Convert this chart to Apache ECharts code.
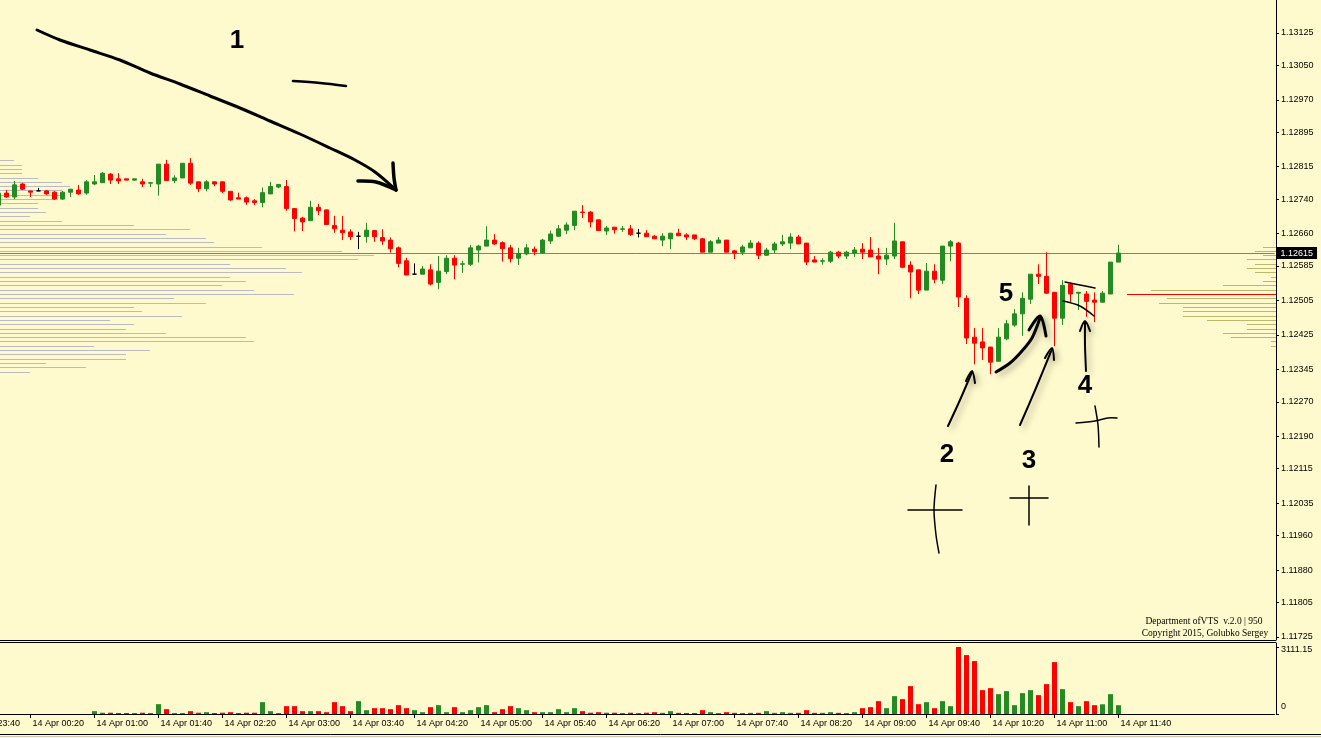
<!DOCTYPE html>
<html><head><meta charset="utf-8">
<script src="https://cdn.jsdelivr.net/npm/echarts@6/dist/echarts.min.js"></script>
<style>html,body{margin:0;padding:0;background:#FFFACD;overflow:hidden}#c{width:1321px;height:738px}</style>
</head><body><div id="c"></div><script>
// ---------- DATA ----------
// M5 bars, first bar 14 Apr 00:00, last 14 Apr 11:40
const open = [1.12726,1.12754,1.12745,1.12775,1.12759,1.12759,1.12759,1.12756,1.12740,1.12756,1.12761,1.12754,
1.12775,1.12778,1.12798,1.12787,1.12787,1.12784,1.12780,1.12777,1.12775,1.12821,1.12783,1.12789,
1.12823,1.12780,1.12764,1.12780,1.12780,1.12758,1.12743,1.12743,1.12736,1.12732,1.12752,1.12768,
1.12769,1.12718,1.12696,1.12690,1.12721,1.12715,1.12679,1.12668,1.12664,1.12654,1.12653,1.12667,
1.12651,1.12645,1.12627,1.12597,1.12566,1.12566,1.12576,1.12547,1.12572,1.12603,1.12589,1.12589,
1.12622,1.12631,1.12645,1.12639,1.12627,1.12603,1.12613,1.12624,1.12615,1.12643,1.12654,1.12668,
1.12679,1.12710,1.12710,1.12692,1.12666,1.12675,1.12670,1.12671,1.12661,1.12661,1.12654,1.12645,
1.12648,1.12661,1.12657,1.12657,1.12648,1.12617,1.12638,1.12645,1.12620,1.12617,1.12627,1.12638,
1.12610,1.12622,1.12636,1.12638,1.12652,1.12638,1.12599,1.12596,1.12596,1.12617,1.12608,1.12615,
1.12624,1.12622,1.12608,1.12601,1.12608,1.12641,1.12587,1.12576,1.12529,1.12573,1.12552,1.12631,
1.12638,1.12510,1.12420,1.12409,1.12397,1.12364,1.12416,1.12448,1.12474,1.12508,1.12566,1.12561,
1.12524,1.12464,1.12543,1.12522,1.12520,1.12506,1.12501,1.12520,1.12594];
const close = [1.12754,1.12745,1.12773,1.12763,1.12756,1.12759,1.12752,1.12740,1.12756,1.12763,1.12752,1.12780,
1.12780,1.12800,1.12784,1.12782,1.12784,1.12787,1.12775,1.12778,1.12821,1.12783,1.12789,1.12823,
1.12777,1.12764,1.12780,1.12775,1.12758,1.12738,1.12740,1.12733,1.12732,1.12755,1.12769,1.12774,
1.12718,1.12695,1.12687,1.12721,1.12713,1.12681,1.12671,1.12662,1.12653,1.12654,1.12668,1.12653,
1.12643,1.12625,1.12591,1.12564,1.12566,1.12578,1.12543,1.12573,1.12603,1.12587,1.12590,1.12627,
1.12631,1.12645,1.12636,1.12625,1.12602,1.12614,1.12627,1.12618,1.12645,1.12659,1.12671,1.12680,
1.12712,1.12709,1.12687,1.12667,1.12673,1.12669,1.12671,1.12658,1.12661,1.12653,1.12648,1.12654,
1.12661,1.12655,1.12652,1.12648,1.12617,1.12641,1.12645,1.12617,1.12615,1.12629,1.12638,1.12610,
1.12622,1.12636,1.12641,1.12652,1.12636,1.12594,1.12594,1.12597,1.12617,1.12608,1.12617,1.12622,
1.12617,1.12606,1.12601,1.12610,1.12643,1.12582,1.12571,1.12529,1.12573,1.12554,1.12631,1.12641,
1.12513,1.12418,1.12406,1.12395,1.12362,1.12420,1.12451,1.12474,1.12510,1.12566,1.12561,1.12522,
1.12464,1.12540,1.12520,1.12524,1.12503,1.12501,1.12522,1.12594,1.12615];
const low = [1.12722,1.12743,1.12740,1.12761,1.12745,1.12759,1.12750,1.12738,1.12738,1.12745,1.12750,1.12750,
1.12773,1.12778,1.12775,1.12775,1.12784,1.12782,1.12768,1.12768,1.12748,1.12783,1.12777,1.12789,
1.12773,1.12756,1.12758,1.12770,1.12754,1.12736,1.12740,1.12727,1.12726,1.12721,1.12752,1.12765,
1.12713,1.12665,1.12666,1.12690,1.12703,1.12681,1.12662,1.12645,1.12645,1.12624,1.12639,1.12641,
1.12634,1.12616,1.12582,1.12564,1.12566,1.12566,1.12540,1.12531,1.12566,1.12554,1.12569,1.12585,
1.12593,1.12631,1.12634,1.12595,1.12593,1.12587,1.12610,1.12610,1.12615,1.12636,1.12652,1.12659,
1.12668,1.12696,1.12675,1.12667,1.12657,1.12660,1.12664,1.12655,1.12651,1.12653,1.12648,1.12631,
1.12624,1.12655,1.12645,1.12645,1.12617,1.12617,1.12638,1.12617,1.12601,1.12610,1.12627,1.12601,
1.12608,1.12615,1.12631,1.12624,1.12636,1.12587,1.12594,1.12588,1.12592,1.12603,1.12601,1.12606,
1.12601,1.12606,1.12566,1.12587,1.12601,1.12580,1.12510,1.12520,1.12529,1.12545,1.12543,1.12596,
1.12490,1.12404,1.12357,1.12367,1.12334,1.12364,1.12413,1.12444,1.12423,1.12497,1.12543,1.12520,
1.12399,1.12448,1.12501,1.12483,1.12467,1.12455,1.12501,1.12520,1.12594];
const high = [1.12761,1.12761,1.12782,1.12777,1.12759,1.12766,1.12761,1.12759,1.12759,1.12763,1.12773,1.12784,
1.12796,1.12803,1.12800,1.12800,1.12787,1.12787,1.12787,1.12778,1.12821,1.12831,1.12795,1.12823,
1.12835,1.12780,1.12784,1.12780,1.12780,1.12758,1.12755,1.12746,1.12740,1.12767,1.12780,1.12774,
1.12784,1.12718,1.12699,1.12736,1.12729,1.12716,1.12701,1.12701,1.12670,1.12664,1.12685,1.12667,
1.12670,1.12651,1.12630,1.12604,1.12591,1.12585,1.12589,1.12608,1.12610,1.12610,1.12597,1.12634,
1.12634,1.12677,1.12659,1.12642,1.12634,1.12627,1.12636,1.12630,1.12648,1.12667,1.12680,1.12686,
1.12712,1.12726,1.12712,1.12692,1.12678,1.12675,1.12678,1.12680,1.12671,1.12668,1.12657,1.12661,
1.12661,1.12671,1.12661,1.12657,1.12650,1.12645,1.12652,1.12645,1.12622,1.12634,1.12645,1.12642,
1.12627,1.12641,1.12657,1.12661,1.12657,1.12638,1.12608,1.12603,1.12620,1.12620,1.12620,1.12629,
1.12638,1.12652,1.12627,1.12627,1.12685,1.12641,1.12596,1.12576,1.12592,1.12589,1.12631,1.12645,
1.12641,1.12517,1.12441,1.12441,1.12397,1.12441,1.12460,1.12485,1.12524,1.12566,1.12589,1.12617,
1.12524,1.12552,1.12547,1.12524,1.12527,1.12524,1.12527,1.12594,1.12634];
// tick volume, first value = 14 Apr 01:00
const volume = [132,60,60,45,45,45,60,45,457,225,45,45,132,60,85,45,60,85,45,60,60,550,132,45,
364,364,132,132,132,85,550,364,132,597,178,271,271,225,411,271,178,85,318,411,85,318,85,178,
318,411,85,225,364,271,178,85,85,85,225,85,271,132,60,85,60,60,45,60,45,60,85,
54,132,54,45,45,178,85,45,85,54,45,54,54,132,54,85,54,54,178,54,54,85,54,45,85,
271,318,597,271,829,690,1294,457,550,271,597,364,3111.15,2736,2457,1108,1201,922,1062,411,
969,1108,876,1387,2410,1155,550,364,597,411,450,920,410];
const volumeMaxLabel = 3111.15;
const priceTicks = [1.13125,1.13050,1.12970,1.12895,1.12815,1.12740,1.12660,1.12585,1.12505,1.12425,
1.12345,1.12270,1.12190,1.12115,1.12035,1.11960,1.11880,1.11805,1.11725];
// volume-at-price profiles (price level, bar length)
const leftProfileLevels = [1.12830,1.12820,1.12810,1.12800,1.12790,1.12780,1.12770,1.12760,1.12750,1.12740,
1.12730,1.12720,1.12710,1.12700,1.12690,1.12680,1.12670,1.12660,1.12650,1.12640,1.12630,1.12620,1.12610,
1.12600,1.12590,1.12580,1.12570,1.12560,1.12550,1.12540,1.12530,1.12520,1.12510,1.12500,1.12490,1.12480,
1.12470,1.12460,1.12450,1.12440,1.12430,1.12420,1.12410,1.12400,1.12390,1.12380,1.12370,1.12360,1.12350,1.12340];
const leftProfileSize = [14,22,22,22,38,62,70,62,62,54,38,38,46,30,62,134,190,166,206,214,262,342,374,
358,230,286,302,230,246,222,254,294,174,206,134,142,182,110,134,126,166,246,254,94,150,126,126,46,86,30];
const rightProfileLevels = [1.12630,1.12620,1.12610,1.12600,1.12590,1.12580,1.12570,1.12560,1.12550,1.12540,
1.12530,1.12520,1.12510,1.12500,1.12490,1.12480,1.12470,1.12460,1.12450,1.12440,1.12430,1.12420,1.12410,1.12400];
const rightProfileSize = [13,21,13,29,21,29,21,5,13,53,125,149,109,117,93,93,93,69,29,29,53,45,5,5];
const rightPOC = 1.12520;
const firstTime = {day:13, minutes:23*60+40};   // first category slot (13 Apr 23:40)
const slotCount = 164;                            // incl. empty right margin
const firstBarSlot = 4;                           // 14 Apr 00:00
const firstVolumeSlot = 16;                       // 14 Apr 01:00
const lastLabelSlot = 144;                        // 14 Apr 11:40

// ---------- BUILD ----------
const categories = [];
for (let i = 0; i < slotCount; i++) {
  let t = firstTime.minutes + 5 * i, d = firstTime.day;
  if (t >= 1440) { t -= 1440; d += 1; }
  const hh = String(Math.floor(t / 60)).padStart(2, '0'), mm = String(t % 60).padStart(2, '0');
  categories.push(d + ' Apr ' + hh + ':' + mm);
}
const GREEN = '#228B22', RED = '#FF0000';
const candleData = categories.map(() => '-');
const volumeData = categories.map(() => '-');
for (let k = 0; k < open.length; k++) {
  const item = { value: [open[k], close[k], low[k], high[k]] };
  if (open[k] === close[k]) item.itemStyle = { color: '#000', borderColor: '#000' };
  candleData[firstBarSlot + k] = item;
}
for (let k = 0; k < volume.length; k++) {
  const slot = firstVolumeSlot + k, b = slot - firstBarSlot;
  volumeData[slot] = { value: volume[k], itemStyle: { color: close[b] >= open[b] ? GREEN : RED } };
}
const lastClose = close[close.length - 1];
const PMIN = 1.11718, PMAX = 1.132015;
const FONT = '"Liberation Sans", Arial, sans-serif';
const every8 = (i) => i % 8 === 0 && i <= lastLabelSlot;

const profileRender = (color, pocValue) => (params, api) => {
  const p = api.value(1);
  const a = api.coord([0, p]), b = api.coord([api.value(0), p]);
  const y = Math.round(a[1]) + 0.5;
  return { type: 'line', shape: { x1: a[0], y1: y, x2: b[0], y2: y },
    style: { stroke: (pocValue !== null && Math.abs(p - pocValue) < 1e-7) ? RED : color, lineWidth: 1 } };
};

const stroke = (pts, w, shadow) => ({
  type: 'polyline', z: 100, silent: true,
  shape: { points: pts, smooth: 0.3 },
  style: Object.assign({ stroke: '#000', lineWidth: w, fill: null, lineCap: 'round', lineJoin: 'round' },
    shadow ? { shadowBlur: 6, shadowColor: 'rgba(0,0,0,0.35)', shadowOffsetX: 3, shadowOffsetY: 3 } : {})
});
const bigText = (t, x, y) => ({ type: 'text', z: 100, silent: true, x: x, y: y,
  style: { text: t, fill: '#000', font: 'bold 26px ' + FONT, align: 'center', verticalAlign: 'middle' } });
const hline = (y, x1, x2, c) => ({ type: 'line', z: 50, silent: true, shape: { x1: x1, y1: y, x2: x2, y2: y }, style: { stroke: c, lineWidth: 1 } });

const chart = echarts.init(document.getElementById('c'), null, { renderer: 'canvas' });
chart.setOption({
  backgroundColor: '#FFFACD',
  animation: false,
  grid: [
    { left: -37.5, right: 46.5, top: 0, height: 640, containLabel: false, outerBoundsMode: 'none' },
    { left: -37.5, right: 46.5, top: 643, height: 71, containLabel: false, outerBoundsMode: 'none' },
    { left: 0, right: 45, top: 0, height: 640, containLabel: false, outerBoundsMode: 'none' }
  ],
  xAxis: [
    { type: 'category', gridIndex: 0, data: categories, show: false, boundaryGap: true },
    { type: 'category', gridIndex: 1, data: categories, boundaryGap: true,
      axisLine: { show: true, lineStyle: { color: '#000', width: 1 } },
      axisTick: { show: true, interval: every8, alignWithLabel: true, length: 4, lineStyle: { color: '#000' } },
      axisLabel: { interval: every8, align: 'left', color: '#000', fontFamily: FONT, fontSize: 9, margin: 5, padding: [0, 0, 0, 2], hideOverlap: false },
      splitLine: { show: false } },
    { type: 'value', gridIndex: 2, min: 0, max: 1276, show: false },
    { type: 'value', gridIndex: 2, min: 0, max: 1276, show: false, inverse: true }
  ],
  yAxis: [
    { type: 'value', gridIndex: 0, position: 'right', offset: 1.5, min: PMIN, max: PMAX, scale: true,
      splitLine: { show: false },
      axisLine: { show: true, lineStyle: { color: '#000', width: 1 } },
      axisTick: { show: true, customValues: priceTicks, length: 3, lineStyle: { color: '#000' } },
      axisLabel: { customValues: priceTicks, formatter: (v) => v.toFixed(5), color: '#000', fontFamily: FONT, fontSize: 9, margin: 5 } },
    { type: 'value', gridIndex: 1, position: 'right', offset: 1.5, min: 0, max: 3297,
      splitLine: { show: false },
      axisLine: { show: true, lineStyle: { color: '#000', width: 1 } },
      axisTick: { show: true, customValues: [0, volumeMaxLabel], length: 3, lineStyle: { color: '#000' } },
      axisLabel: { customValues: [0, volumeMaxLabel], color: '#000', fontFamily: FONT, fontSize: 9, margin: 5,
        formatter: (v) => v === 0 ? '{b|0}' : '{t|' + v.toFixed(2) + '}',
        rich: { t: { padding: [6, 0, 0, 0], fontSize: 9, fontFamily: FONT, color: '#000' },
                b: { padding: [0, 0, 14, 0], fontSize: 9, fontFamily: FONT, color: '#000' } } } },
    { type: 'value', gridIndex: 2, min: PMIN, max: PMAX, show: false, scale: true }
  ],
  series: [
    { type: 'custom', xAxisIndex: 2, yAxisIndex: 2, silent: true, z: 1,
      data: leftProfileLevels.map((p, i) => [leftProfileSize[i], p]),
      renderItem: profileRender('#BABAC2', null) },
    { type: 'custom', xAxisIndex: 3, yAxisIndex: 2, silent: true, z: 1,
      data: rightProfileLevels.map((p, i) => [rightProfileSize[i], p]),
      renderItem: profileRender('#BDB76B', rightPOC) },
    { type: 'candlestick', xAxisIndex: 0, yAxisIndex: 0, data: candleData, barWidth: 4, z: 3,
      itemStyle: { color: GREEN, color0: RED, borderColor: GREEN, borderColor0: RED, borderWidth: 1 },
      markLine: { silent: true, symbol: ['none', 'none'], z: 2, precision: 5,
        lineStyle: { color: '#808080', type: 'solid', width: 1 },
        label: { position: 'end', formatter: (p) => Number(p.value).toFixed(5), color: '#fff', backgroundColor: '#000',
          padding: [2, 4, 1, 4], fontSize: 9, fontFamily: FONT, distance: 2 },
        data: [{ yAxis: lastClose }] } },
    { type: 'bar', xAxisIndex: 1, yAxisIndex: 1, data: volumeData, barWidth: 5, z: 3 }
  ],
  graphic: [
    hline(640.5, 0, 1276, '#000'),
    hline(642.5, 0, 1276, '#000'),
    hline(734.5, 0, 1321, '#000'),
    hline(736.5, 0, 1321, '#C8C4B8'),
    { type: 'text', silent: true, x: 1204, y: 621, style: { text: 'Department ofVTS  v.2.0 | 950', fill: '#000', font: '9.5px "Liberation Serif", serif', align: 'center', verticalAlign: 'middle' } },
    { type: 'text', silent: true, x: 1205, y: 633, style: { text: 'Copyright 2015, Golubko Sergey', fill: '#000', font: '9.5px "Liberation Serif", serif', align: 'center', verticalAlign: 'middle' } },
    // hand-drawn annotations
    stroke([[37,30],[60,40],[90,50],[120,60],[150,73],[180,84],[210,96],[240,108],[270,121],[300,134],[330,148],[355,160],[375,172],[396,190]], 3, false),
    stroke([[358,181],[376,182],[396,190]], 3.5, false),
    stroke([[393,163],[394,178],[396,190]], 3.5, false),
    stroke([[293,81],[320,83],[346,86]], 2.5, false),
    bigText('1', 237, 41),
    bigText('5', 1006, 294),
    bigText('2', 947, 455),
    bigText('3', 1029, 461),
    bigText('4', 1085, 386),
    stroke([[996,372],[1010,363],[1022,351],[1032,338],[1040,318]], 3, true),
    stroke([[1029,330],[1040,316],[1046,336]], 3, true),
    stroke([[948,426],[960,400],[972,372]], 2, true),
    stroke([[966,381],[972,371],[975,383]], 2, true),
    stroke([[1020,425],[1036,388],[1052,349]], 2, true),
    stroke([[1045,358],[1052,348],[1054,360]], 2, true),
    stroke([[1086,371],[1085,345],[1085,322]], 2, true),
    stroke([[1080,331],[1085,321],[1090,331]], 2, true),
    stroke([[1065,282],[1080,285],[1095,288]], 1.5, false),
    stroke([[1063,301],[1080,306],[1094,316]], 1.5, false),
    stroke([[908,510],[935,510],[962,510]], 1.5, false),
    stroke([[936,485],[934,510],[936,535],[939,553]], 1.5, false),
    stroke([[1010,498],[1029,498],[1048,498]], 1.5, false),
    stroke([[1029,486],[1029,505],[1029,525]], 1.5, false),
    stroke([[1076,423],[1095,421],[1108,418],[1117,418]], 1.5, false),
    stroke([[1095,406],[1098,425],[1099,447]], 1.5, false)
  ]
});
</script></body></html>
